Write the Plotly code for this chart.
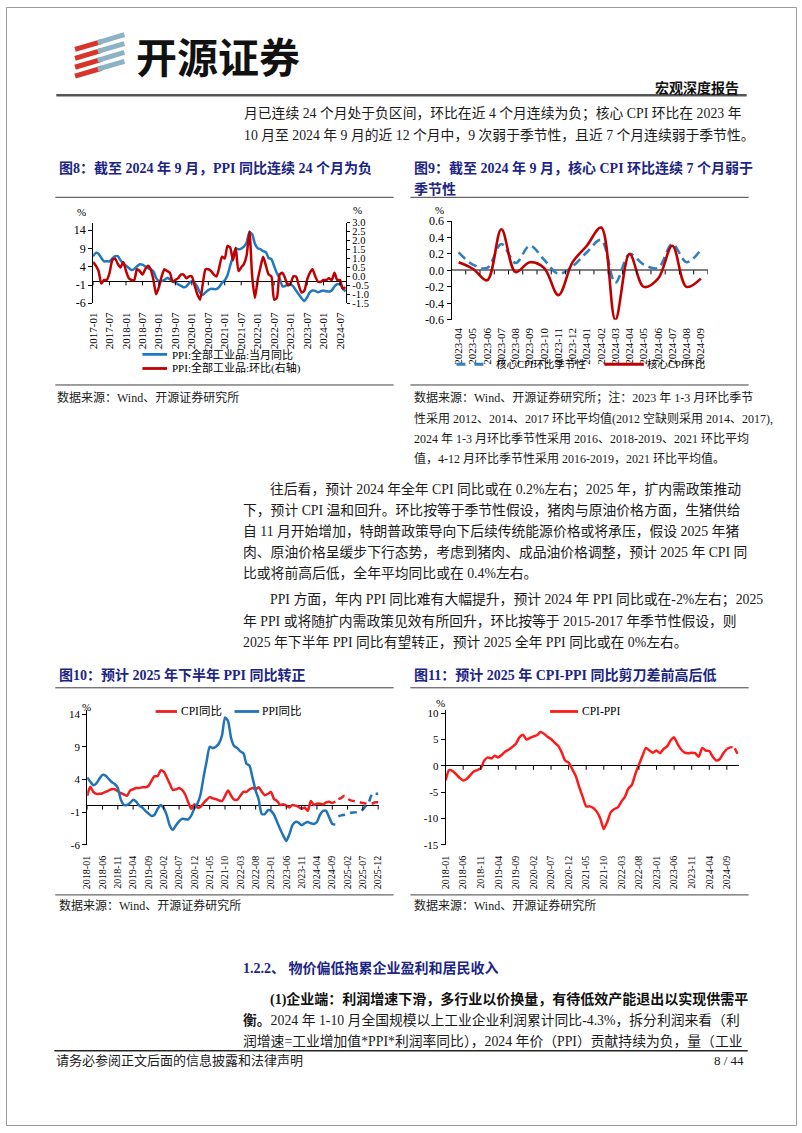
import plotly.graph_objects as go

W, H = 802, 1133
def X(p): return p / W
def Y(p): return 1 - p / H

FONT = "Liberation Serif, 'Noto Sans CJK SC', serif"
NAVY = "#1C2584"
TXT = "#1a1a1a"

def months(y0, m0, n):
    out, y, m = [], y0, m0
    for _ in range(n):
        out.append(f"{y}-{m:02d}")
        m += 1
        if m > 12:
            m, y = 1, y + 1
    return out

# ---------------- data ----------------
# Fig 8: 2017-01 .. 2024-09
m8 = months(2017, 1, 93)
ppi_yoy_8 = [6.9,7.8,7.6,6.4,5.5,5.5,5.5,6.3,6.9,6.9,5.8,4.9,
             4.3,3.7,3.1,3.4,4.1,4.7,4.6,4.1,3.6,3.3,2.7,0.9,
             0.1,0.1,0.4,0.9,0.6,0.0,-0.3,-0.8,-1.2,-1.6,-1.4,-0.5,
             0.1,-0.4,-1.5,-3.1,-3.7,-3.0,-2.4,-2.0,-2.1,-2.1,-1.5,-0.4,
             0.3,1.7,4.4,6.8,9.0,8.8,9.0,9.5,10.7,13.5,12.9,10.3,
             9.1,8.8,8.3,8.0,6.4,6.1,4.2,2.3,0.9,-1.3,-1.3,-0.7,
             -0.8,-1.4,-2.5,-3.6,-4.6,-5.4,-4.4,-3.0,-2.5,-2.6,-3.0,-2.7,
             -2.5,-2.7,-2.8,-2.5,-1.4,-0.8,-0.8,-1.8,-2.8]
ppi_mom_8 = [0.8,0.6,0.3,-0.4,-0.2,-0.2,0.2,0.9,1.0,0.7,0.5,0.8,
             0.3,-0.1,-0.2,-0.2,0.4,0.3,0.1,0.4,0.6,0.4,-0.2,-1.0,
             -0.6,0.0,0.4,0.3,0.2,-0.3,-0.2,-0.1,0.1,0.1,-0.1,0.0,
             0.0,-0.5,-1.0,-1.3,-0.4,0.4,0.4,0.3,0.1,0.0,0.5,1.1,
             1.0,1.7,1.6,0.9,1.6,0.3,0.5,0.7,1.2,2.5,0.0,-1.2,
             -0.2,0.5,1.1,0.6,0.1,0.0,-1.3,-1.2,0.1,0.2,-0.1,-0.5,
             -0.4,0.0,0.0,-0.5,-0.9,-0.8,-0.2,0.2,0.4,0.0,-0.3,-0.3,
             -0.2,-0.2,-0.1,-0.2,0.2,-0.2,-0.2,-0.7,-0.6]
ticks8 = ['2017-01','2017-07','2018-01','2018-07','2019-01','2019-07','2020-01','2020-07',
          '2021-01','2021-07','2022-01','2022-07','2023-01','2023-07','2024-01','2024-07']
y8_vals = [14, 9, 4, -1, -6]
y8_text = ['14', '9', '4', '-1', '-6']
y8r_vals = [3.0, 2.5, 2.0, 1.5, 1.0, 0.5, 0.0, -0.5, -1.0, -1.5]
y8r_text = ['3.0', '2.5', '2.0', '1.5', '1.0', '0.5', '0.0', '-0.5', '-1.0', '-1.5']

# Fig 9: 2023-04 .. 2024-09
m9 = months(2023, 4, 18)
core_seasonal = [0.22,0.07,0.03,0.32,0.09,0.30,0.13,-0.04,0.05,0.22,0.37,-0.15,0.20,0.07,0.03,0.32,0.10,0.25]
core_mom = [0.10,0.02,-0.12,0.50,-0.02,0.10,0.03,-0.30,0.10,0.30,0.52,-0.60,0.20,-0.20,-0.10,0.30,-0.20,-0.10]
y9_vals = [0.6, 0.4, 0.2, 0.0, -0.2, -0.4, -0.6]
y9_text = ['0.6', '0.4', '0.2', '0.0', '-0.2', '-0.4', '-0.6']

# Fig 10: 2018-01 .. 2025-12 (actual to 2024-10, forecast after)
m10 = months(2018, 1, 96)
cpi_yoy = [1.5,2.9,2.1,1.8,1.8,1.9,2.1,2.3,2.5,2.5,2.2,1.9,
           1.7,1.5,2.3,2.5,2.7,2.7,2.8,2.8,3.0,3.8,4.5,4.5,
           5.4,5.2,4.3,3.3,2.4,2.5,2.7,2.4,1.7,0.5,-0.5,0.2,
           -0.3,-0.2,0.4,0.9,1.3,1.1,1.0,0.8,0.7,1.5,2.3,1.5,
           0.9,0.9,1.5,2.1,2.1,2.5,2.7,2.5,2.8,2.1,1.6,1.8,
           2.1,1.0,0.7,0.1,0.2,0.0,-0.3,0.1,0.0,-0.2,-0.5,-0.3,
           -0.8,0.7,0.1,0.3,0.3,0.2,0.5,0.6,0.4,0.6]
ppi_yoy = [4.3,3.7,3.1,3.4,4.1,4.7,4.6,4.1,3.6,3.3,2.7,0.9,
           0.1,0.1,0.4,0.9,0.6,0.0,-0.3,-0.8,-1.2,-1.6,-1.4,-0.5,
           0.1,-0.4,-1.5,-3.1,-3.7,-3.0,-2.4,-2.0,-2.1,-2.1,-1.5,-0.4,
           0.3,1.7,4.4,6.8,9.0,8.8,9.0,9.5,10.7,13.5,12.9,10.3,
           9.1,8.8,8.3,8.0,6.4,6.1,4.2,2.3,0.9,-1.3,-1.3,-0.7,
           -0.8,-1.4,-2.5,-3.6,-4.6,-5.4,-4.4,-3.0,-2.5,-2.6,-3.0,-2.7,
           -2.5,-2.7,-2.8,-2.5,-1.4,-0.8,-0.8,-1.8,-2.8,-2.9]
cpi_fc = [1.0,1.2,1.5,1.1,0.8,0.7,0.6,0.5,0.4,0.3,0.2,0.3,0.5,0.5]
ppi_fc = [-1.65,-1.5,-1.4,-1.25,-1.1,-1.05,-1.0,-0.9,-0.6,0.0,0.6,1.8,1.8,1.8]
ticks10 = ['2018-01','2018-06','2018-11','2019-04','2019-09','2020-02','2020-07','2020-12',
           '2021-05','2021-10','2022-03','2022-08','2023-01','2023-06','2023-11','2024-04',
           '2024-09','2025-02','2025-07','2025-12']
y10_vals = [14, 9, 4, -1, -6]
y10_text = ['14', '9', '4', '-1', '-6']

# Fig 11: 2018-01 .. 2024-12
m11 = months(2018, 1, 84)
cpi_ppi = [-2.8,-0.8,-1.0,-1.6,-2.3,-2.8,-2.5,-1.8,-1.1,-0.8,-0.5,1.0,
           1.6,1.4,1.9,1.6,2.1,2.7,3.1,3.6,4.2,5.4,5.9,5.0,
           5.3,5.6,5.8,6.4,6.1,5.5,5.1,4.4,3.8,2.6,1.0,0.6,
           -0.6,-1.9,-4.0,-5.9,-7.7,-7.7,-8.0,-8.7,-10.0,-12.0,-10.6,-8.8,
           -8.2,-7.9,-6.8,-5.9,-4.3,-3.6,-1.5,0.2,1.9,3.4,2.9,2.5,
           2.9,2.4,3.2,3.7,4.8,5.4,4.1,3.1,2.5,2.4,2.5,2.4,
           1.7,3.4,2.9,2.8,1.7,1.0,1.3,2.4,3.2]
cpi_ppi_fc = [3.2,3.5,3.5,2.3]
ticks11 = ticks10[:17]
y11_vals = [10, 5, 0, -5, -10, -15]
y11_text = ['10', '5', '0', '-5', '-10', '-15']

# ---------------- figure ----------------
BLUE8, RED8 = "#1F78C1", "#C00000"
BLUE9, RED9 = "#2F80C0", "#C00000"
BLUE10, RED10 = "#2272B8", "#F01E1E"
RED11 = "#FF1A1A"

fig = go.Figure()
fig.add_trace(go.Scatter(x=m8, y=ppi_yoy_8, xaxis='x', yaxis='y', mode='lines',
                         line=dict(color=BLUE8, width=2.5, shape='spline', smoothing=0.6)))
fig.add_trace(go.Scatter(x=m8, y=ppi_mom_8, xaxis='x', yaxis='y2', mode='lines',
                         line=dict(color=RED8, width=2.5, shape='spline', smoothing=0.6)))
fig.add_trace(go.Scatter(x=m9, y=core_seasonal, xaxis='x2', yaxis='y3', mode='lines',
                         line=dict(color=BLUE9, width=2.6, dash='9px,5px', shape='spline', smoothing=1)))
fig.add_trace(go.Scatter(x=m9, y=core_mom, xaxis='x2', yaxis='y3', mode='lines',
                         line=dict(color=RED9, width=2.6, shape='spline', smoothing=1)))
fig.add_trace(go.Scatter(x=m10[:82], y=cpi_yoy, xaxis='x3', yaxis='y4', mode='lines',
                         line=dict(color=RED10, width=2.5, shape='spline', smoothing=0.6)))
fig.add_trace(go.Scatter(x=m10[:82], y=ppi_yoy, xaxis='x3', yaxis='y4', mode='lines',
                         line=dict(color=BLUE10, width=2.5, shape='spline', smoothing=0.6)))
fig.add_trace(go.Scatter(x=m10[82:], y=cpi_fc, xaxis='x3', yaxis='y4', mode='lines',
                         line=dict(color=RED10, width=2.5, dash='7px,5px', shape='spline', smoothing=0.6)))
fig.add_trace(go.Scatter(x=m10[82:], y=ppi_fc, xaxis='x3', yaxis='y4', mode='lines',
                         line=dict(color=BLUE10, width=2.5, dash='7px,5px', shape='spline', smoothing=0.6)))
fig.add_trace(go.Scatter(x=m11[:81], y=cpi_ppi, xaxis='x4', yaxis='y5', mode='lines',
                         line=dict(color=RED11, width=2.5, shape='spline', smoothing=0.6)))
fig.add_trace(go.Scatter(x=m11[80:], y=cpi_ppi_fc, xaxis='x4', yaxis='y5', mode='lines',
                         line=dict(color=RED11, width=2.5, dash='6px,3px', shape='spline', smoothing=0.6)))

def xax(dom, anchor, cats, rng, tv, size, standoff):
    return dict(domain=[X(dom[0]), X(dom[1])], anchor=anchor, type='category',
                categoryorder='array', categoryarray=cats, range=rng,
                tickmode='array', tickvals=tv, ticktext=tv, tickangle=-90,
                tickfont=dict(family=FONT, size=size, color='black'),
                showgrid=False, showline=False, zeroline=False, ticks='',
                ticklabelstandoff=standoff)

def yax(dom, anchor, rng, tv, tt, size, zc='black', zw=1, side='left'):
    return dict(domain=[Y(dom[1]), Y(dom[0])], anchor=anchor, range=rng, side=side,
                tickmode='array', tickvals=tv, ticktext=tt,
                tickfont=dict(family=FONT, size=size, color='black'),
                showline=True, linecolor='black', linewidth=1, ticks='outside',
                ticklen=4, tickcolor='black', showgrid=False,
                zeroline=True, zerolinecolor=zc, zerolinewidth=zw)

layout = dict(
    width=W, height=H, margin=dict(l=0, r=0, t=0, b=0),
    paper_bgcolor='white', plot_bgcolor='rgba(0,0,0,0)', showlegend=False,
    xaxis=xax((88.3, 345), 'y', m8, [0, 92.3], ticks8, 11, 6),
    yaxis=yax((218.3, 300), 'x', [-6, 16.1], y8_vals, y8_text, 12),
    xaxis2=xax((451.7, 711.7), 'y3', m9, [-0.5, 17.5], m9, 11, 5),
    yaxis3=yax((216.7, 316.7), 'x2', [-0.6, 0.6], y9_vals, y9_text, 12, zc='#808080', zw=1.5),
    xaxis3=xax((82.3, 378), 'y4', m10, [0, 95.2], ticks10, 10, 8),
    yaxis4=yax((712.0, 848.3), 'x3', [-6, 14.6], y10_vals, y10_text, 11),
    xaxis4=xax((445.7, 743), 'y5', m11, [0, 83.4], ticks11, 10, 8),
    yaxis5=yax((712.3, 848.3), 'x4', [-15, 10.5], y11_vals, y11_text, 11),
)
y2 = yax((218.3, 300), 'x', [-1.5, 3.0], y8r_vals, y8r_text, 10.5, side='right')
y2.update(overlaying='y', zeroline=False, ticklen=3)
layout['yaxis2'] = y2

shapes, ann = [], []

def hline(x0, x1, y, color='#404040', width=1):
    shapes.append(dict(type='line', xref='paper', yref='paper', x0=X(x0), x1=X(x1),
                       y0=Y(y), y1=Y(y), line=dict(color=color, width=width)))

def seg(x0, y0, x1, y1, color, width, dash='solid'):
    shapes.append(dict(type='line', xref='paper', yref='paper', x0=X(x0), x1=X(x1),
                       y0=Y(y0), y1=Y(y1), line=dict(color=color, width=width, dash=dash)))

def txt(x, y, s, size=14, color=TXT, bold=False, anchor='left', family=FONT):
    ann.append(dict(x=X(x), y=Y(y), xref='paper', yref='paper',
                    text=f"<b>{s}</b>" if bold else s, showarrow=False,
                    xanchor=anchor, yanchor='middle',
                    font=dict(family=family, size=size, color=color)))

def zticks(xref, yref, positions, length=4):
    for p in positions:
        shapes.append(dict(type='line', xref=xref, yref=yref, x0=p, x1=p,
                           ysizemode='pixel', yanchor=0, y0=0, y1=-length,
                           line=dict(color='black', width=1)))

# page border
shapes.append(dict(type='rect', xref='paper', yref='paper', x0=X(0.5), x1=X(801.5),
                   y0=Y(1132.5), y1=Y(0.5), line=dict(color='#9a9a9a', width=1)))

# logo icon
for yy in [40, 49, 58, 67]:
    seg(70, yy + 3, 97, yy - 5, '#D8352A', 5)
for yy in [33, 42, 51, 60]:
    seg(93, yy + 3, 120, yy - 5, '#8DB2C6', 5)
txt(130, 49, "开源证券", size=41, color='#111', bold=True, family="'Noto Sans CJK SC', sans-serif")

# header
txt(745, 81.7, "宏观深度报告", size=14, color='#111', bold=True, anchor='right')
hline(51, 751, 89.3, color='#555', width=2.5)
txt(239, 108, "月已连续 24 个月处于负区间，环比在近 4 个月连续为负；核心 CPI 环比在 2023 年", size=13.8)
txt(239, 130, "10 月至 2024 年 9 月的近 12 个月中，9 次弱于季节性，且近 7 个月连续弱于季节性。", size=13.8)

# fig 8 / 9 titles
txt(52, 163, "图8：截至 2024 年 9 月，PPI 同比连续 24 个月为负", color=NAVY, bold=True)
txt(412, 163, "图9：截至 2024 年 9 月，核心 CPI 环比连续 7 个月弱于", color=NAVY, bold=True)
txt(412, 184, "季节性", color=NAVY, bold=True)
hline(50, 393, 192.7)
hline(410, 753, 192.7)

# fig 8 extras
txt(76.7, 208, "%", size=11, color='black', anchor='center')
txt(356, 205.5, "%", size=11, color='black', anchor='center')
zticks('x', 'y', [m8.index(t) for t in ticks8])
seg(138.3, 351.7, 163.3, 351.7, BLUE8, 2.8)
txt(166, 351.7, "PPI:全部工业品:当月同比", size=11, color='black')
seg(138.3, 366, 163.3, 366, RED8, 2.8)
txt(166, 366, "PPI:全部工业品:环比(右轴)", size=11, color='black')
hline(50, 393, 382.7)
txt(50, 395, "数据来源：Wind、开源证券研究所", size=12)

# fig 9 extras
txt(439.3, 206, "%", size=11, color='black', anchor='center')
zticks('x2', 'y3', [i - 0.5 for i in range(len(m9) + 1)])
seg(456.7, 361.7, 493.3, 361.7, BLUE9, 2.8, dash='dash')
txt(495, 361.7, "核心CPI环比季节性", size=10.5, color='black')
seg(606.7, 361.7, 646.7, 361.7, RED9, 2.8)
txt(648, 361.7, "核心CPI环比", size=10.5, color='black')
hline(410, 753, 382.7)
txt(412, 395, "数据来源：Wind、开源证券研究所；注：2023 年 1-3 月环比季节", size=12)
txt(412, 416.5, "性采用 2012、2014、2017 环比平均值(2012 空缺则采用 2014、2017),", size=12)
txt(412, 437, "2024 年 1-3 月环比季节性采用 2016、2018-2019、2021 环比平均", size=12)
txt(412, 457.5, "值，4-12 月环比季节性采用 2016-2019，2021 环比平均值。", size=12)

# paragraphs
para = [
    (266, 488.3, "往后看，预计 2024 年全年 CPI 同比或在 0.2%左右；2025 年，扩内需政策推动"),
    (238, 509.5, "下，预计 CPI 温和回升。环比按等于季节性假设，猪肉与原油价格方面，生猪供给"),
    (238, 530.7, "自 11 月开始增加，特朗普政策导向下后续传统能源价格或将承压，假设 2025 年猪"),
    (238, 551.9, "肉、原油价格呈缓步下行态势，考虑到猪肉、成品油价格调整，预计 2025 年 CPI 同"),
    (238, 573.3, "比或将前高后低，全年平均同比或在 0.4%左右。"),
    (266, 600, "PPI 方面，年内 PPI 同比难有大幅提升，预计 2024 年 PPI 同比或在-2%左右；2025"),
    (238, 621.7, "年 PPI 或将随扩内需政策见效有所回升，环比按等于 2015-2017 年季节性假设，则"),
    (238, 643.3, "2025 年下半年 PPI 同比有望转正，预计 2025 全年 PPI 同比或在 0%左右。"),
]
for x, y, s in para:
    txt(x, y, s, size=13.8)

# fig 10 / 11 titles
txt(52, 676.7, "图10：预计 2025 年下半年 PPI 同比转正", color=NAVY, bold=True)
txt(412, 676.7, "图11：预计 2025 年 CPI-PPI 同比剪刀差前高后低", color=NAVY, bold=True)
hline(50, 393, 689.3)
hline(410, 753, 689.3)

# fig 10 extras
txt(82, 709, "%", size=11, color='black', anchor='center')
zticks('x3', 'y4', [m10.index(t) for t in ticks10])
seg(151.7, 713.3, 173.3, 713.3, RED10, 2.8)
txt(175, 713.3, "CPI同比", size=11.5, color='black')
seg(231.7, 713.3, 256.7, 713.3, BLUE10, 2.8)
txt(258, 713.3, "PPI同比", size=11.5, color='black')
hline(50, 393, 899)
txt(52, 909.3, "数据来源：Wind、开源证券研究所", size=12)

# fig 11 extras
txt(441, 705, "%", size=11, color='black', anchor='center')
zticks('x4', 'y5', [m11.index(t) for t in ticks11])
seg(551.7, 713.3, 580, 713.3, RED11, 2.8)
txt(581.7, 713.3, "CPI-PPI", size=11.5, color='black')
hline(410, 753, 899)
txt(412, 909.3, "数据来源：Wind、开源证券研究所", size=12)

# section
txt(238, 973.3, "1.2.2、 物价偏低拖累企业盈利和居民收入", color=NAVY, bold=True)
txt(266, 1005, "(1)企业端：利润增速下滑，多行业以价换量，有待低效产能退出以实现供需平", color='#111', bold=True)
txt(238, 1026, "<b>衡。</b>2024 年 1-10 月全国规模以上工业企业利润累计同比-4.3%，拆分利润来看（利", size=13.8)
txt(238, 1046.7, "润增速=工业增加值*PPI*利润率同比），2024 年价（PPI）贡献持续为负，量（工业", size=13.8)
hline(49, 752, 1056.7, color='#222', width=1.5)
txt(49, 1067, "请务必参阅正文后面的信息披露和法律声明", size=13)
txt(750, 1067, "8 / 44", size=13, anchor='right')

layout['shapes'] = shapes
layout['annotations'] = ann
fig.update_layout(**layout)
fig.write_html("out.html")
